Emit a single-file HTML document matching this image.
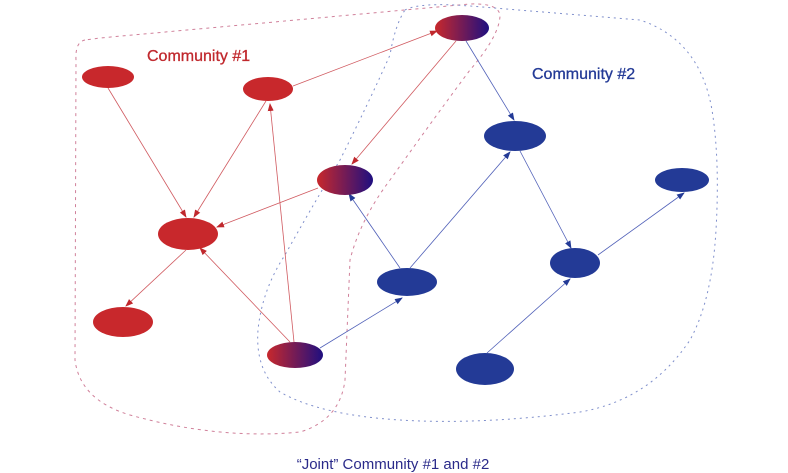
<!DOCTYPE html>
<html><head><meta charset="utf-8"><style>body{margin:0;background:#fff}svg{display:block}</style></head><body>
<svg width="788" height="473" viewBox="0 0 788 473" xmlns="http://www.w3.org/2000/svg" font-family="Liberation Sans, sans-serif">
<defs>
<linearGradient id="g" x1="0" x2="1" y1="0" y2="0"><stop offset="0" stop-color="#c8282c"/><stop offset="1" stop-color="#1f0f80"/></linearGradient>
<marker id="ar" markerWidth="8" markerHeight="8" refX="7" refY="4" orient="auto" markerUnits="userSpaceOnUse"><path d="M0,1 L8,4 L0,7 Z" fill="#c0282d"/></marker>
<marker id="ab" markerWidth="8" markerHeight="8" refX="7" refY="4" orient="auto" markerUnits="userSpaceOnUse"><path d="M0,1 L8,4 L0,7 Z" fill="#233a96"/></marker>
</defs>
<path d="M85,40 Q75,42 76,60 L75,360 Q80,400 130,415 Q220,440 300,432 Q340,420 345,380 L350,260 Q360,220 390,180 Q440,110 470,70 Q500,35 500,15 Q498,3 470,4 L100,38 Z" fill="none" stroke="#d0809a" stroke-width="1" stroke-dasharray="3,4"/>
<path d="M405,10 Q420,2 470,6 L640,20 Q700,40 712,110 Q720,160 716,230 Q712,300 690,340 Q650,400 580,412 Q480,425 400,420 Q320,415 280,392 Q255,370 258,330 Q262,290 285,255 Q310,210 340,160 Q370,100 390,55 Q395,25 405,10 Z" fill="none" stroke="#8090cc" stroke-width="1" stroke-dasharray="2,4"/>
<g stroke="#d05a60" stroke-width="0.8" fill="none" marker-end="url(#ar)">
<line x1="108" y1="88" x2="186" y2="217"/>
<line x1="266" y1="101" x2="194" y2="217"/>
<line x1="318" y1="188" x2="217" y2="227"/>
<line x1="293" y1="86" x2="437" y2="31"/>
<line x1="456" y1="41" x2="352" y2="164"/>
<line x1="186" y1="250" x2="126" y2="306"/>
<line x1="290" y1="342" x2="200" y2="248"/>
<line x1="294" y1="342" x2="270" y2="104"/>
</g>
<g stroke="#5060b8" stroke-width="0.8" fill="none" marker-end="url(#ab)">
<line x1="466" y1="41" x2="514" y2="120"/>
<line x1="320" y1="348" x2="402" y2="298"/>
<line x1="400" y1="268" x2="349" y2="194"/>
<line x1="410" y1="268" x2="510" y2="152"/>
<line x1="520" y1="151" x2="571" y2="248"/>
<line x1="598" y1="255" x2="684" y2="193"/>
<line x1="487" y1="353" x2="570" y2="279"/>
</g>
<ellipse cx="108" cy="77" rx="26" ry="11" fill="#c8282c"/>
<ellipse cx="268" cy="89" rx="25" ry="12" fill="#c8282c"/>
<ellipse cx="188" cy="234" rx="30" ry="16" fill="#c8282c"/>
<ellipse cx="123" cy="322" rx="30" ry="15" fill="#c8282c"/>
<ellipse cx="462" cy="28" rx="27" ry="13" fill="url(#g)"/>
<ellipse cx="345" cy="180" rx="28" ry="15" fill="url(#g)"/>
<ellipse cx="295" cy="355" rx="28" ry="13" fill="url(#g)"/>
<ellipse cx="515" cy="136" rx="31" ry="15" fill="#233a96"/>
<ellipse cx="682" cy="180" rx="27" ry="12" fill="#233a96"/>
<ellipse cx="407" cy="282" rx="30" ry="14" fill="#233a96"/>
<ellipse cx="575" cy="263" rx="25" ry="15" fill="#233a96"/>
<ellipse cx="485" cy="369" rx="29" ry="16" fill="#233a96"/>
<text x="147" y="61" font-size="16" fill="#c0282d" stroke="#c0282d" stroke-width="0.3">Community #1</text>
<text x="532" y="79" font-size="16" fill="#233a96" stroke="#233a96" stroke-width="0.3">Community #2</text>
<text x="393" y="469" font-size="15" fill="#2a2a8a" text-anchor="middle">“Joint” Community #1 and #2</text>
</svg>
</body></html>
